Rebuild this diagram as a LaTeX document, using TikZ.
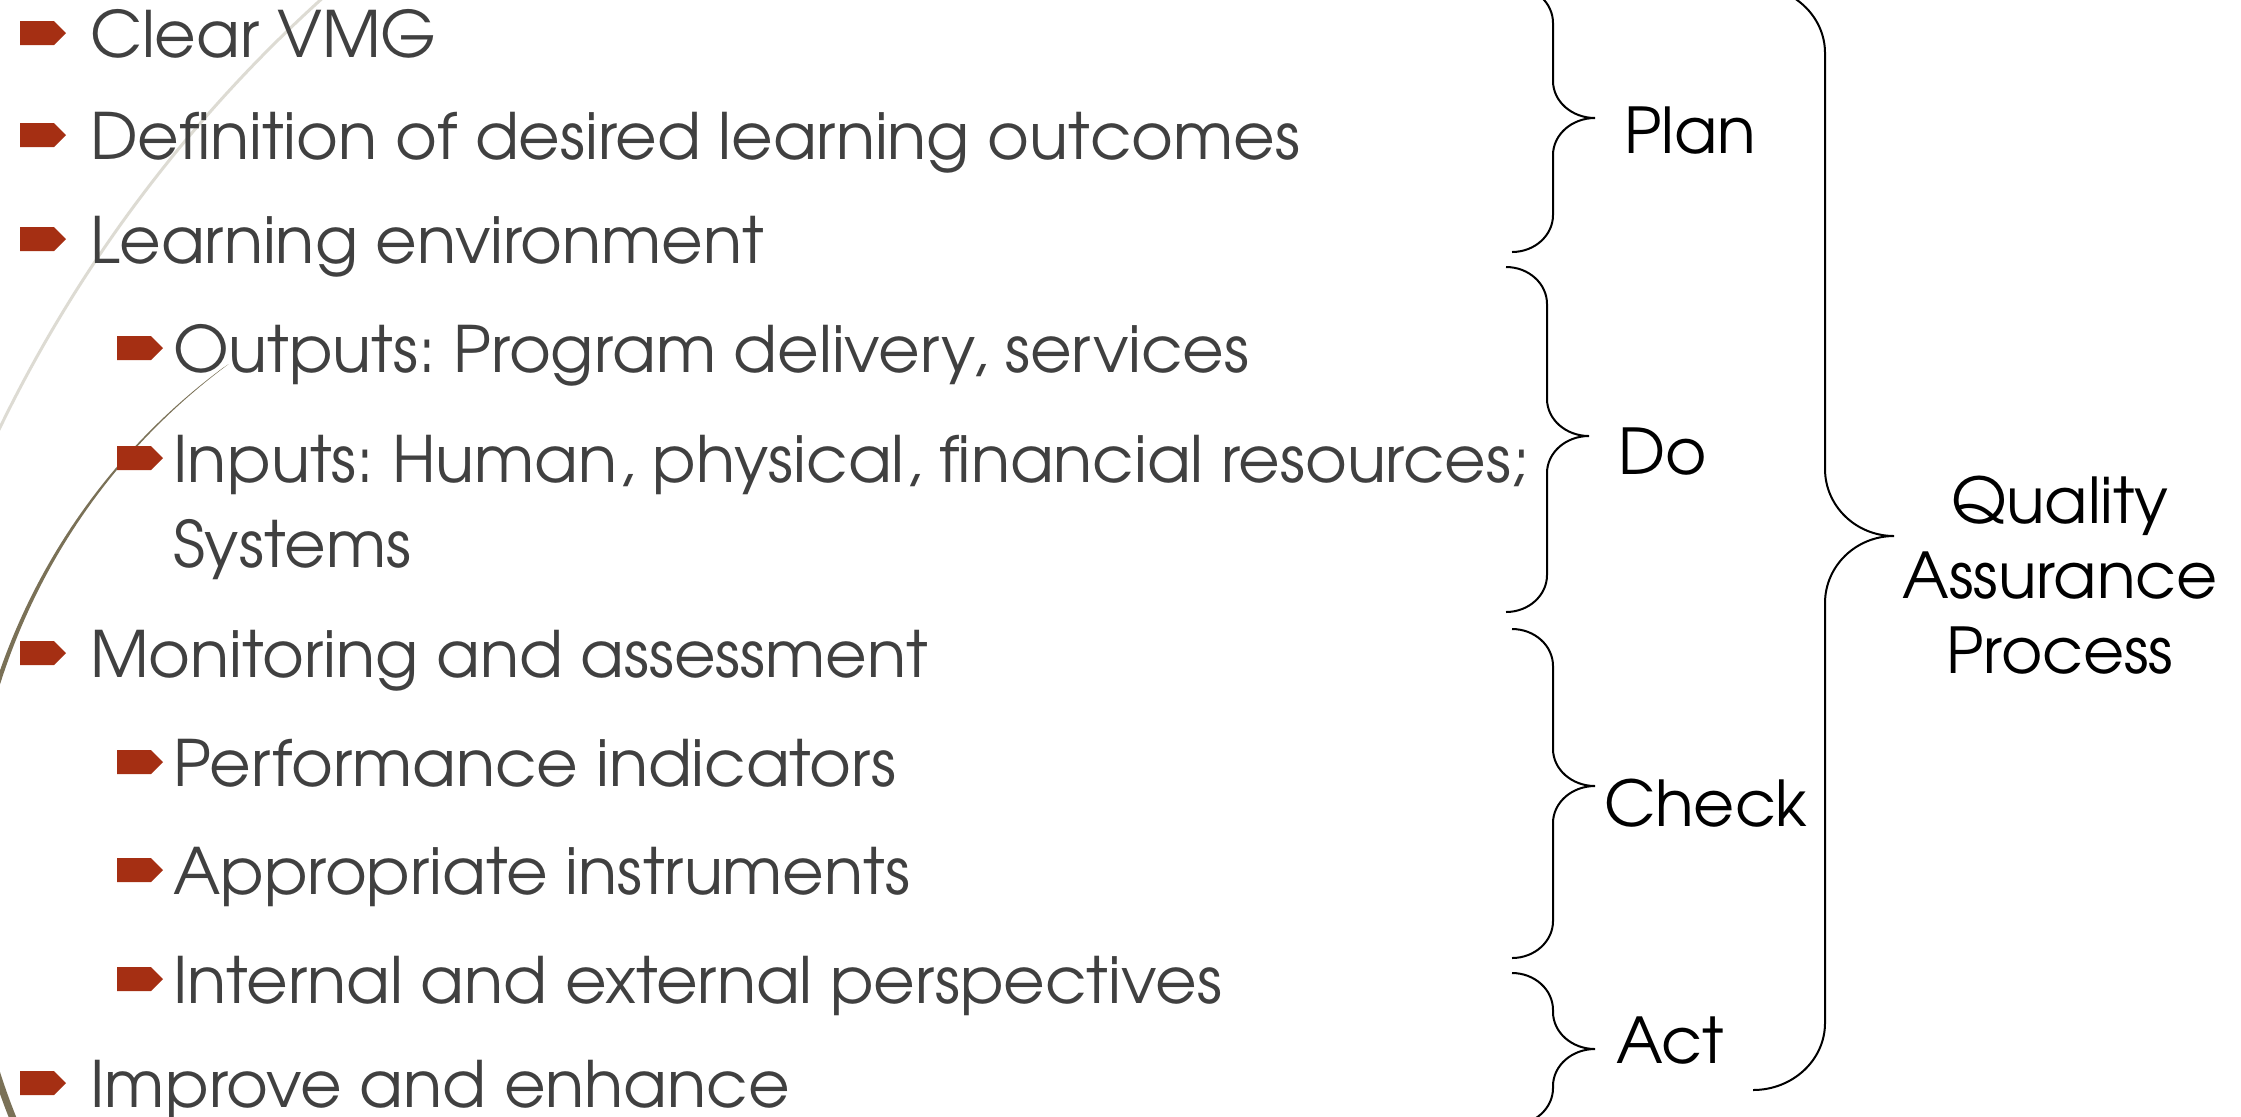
\documentclass[tikz,border=0pt]{standalone}
\usepackage{fontspec}
\setmainfont{TeX Gyre Adventor}
\frenchspacing
\definecolor{txtc}{HTML}{404040}
\definecolor{bulc}{HTML}{A52F13}
\definecolor{arcl}{HTML}{DDDBD3}
\definecolor{arcd}{HTML}{7A7157}
% #1 xend, #2 xv, #3 xtip, #4 ytop, #5 ytip, #6 ybot, #7 curl height
\newcommand\curlybr[7]{%
  \draw[brc] (#1,#4) .. controls ({#1+0.552*(#2-#1)},#4) and (#2,{#4+0.448*#7}) .. (#2,{#4+#7})
    -- (#2,{#5-#7}) .. controls (#2,{#5-0.448*#7}) and ({#3-0.552*(#3-#2)},#5) .. (#3,#5)
    .. controls ({#3-0.552*(#3-#2)},#5) and (#2,{#5+0.448*#7}) .. (#2,{#5+#7})
    -- (#2,{#6-#7}) .. controls (#2,{#6-0.448*#7}) and ({#1+0.552*(#2-#1)},#6) .. (#1,#6);}
\begin{document}
\begin{tikzpicture}[x=0.5pt,y=-0.5pt,
  item/.style={anchor=base west, inner sep=0pt, outer sep=0pt, text=txtc, font=\fontsize{32}{38}\selectfont},
  lab/.style={anchor=base west, inner sep=0pt, outer sep=0pt, text=black, font=\fontsize{31.6}{38}\selectfont},
  brc/.style={draw=black, line width=1pt},
  bulletmark/.pic={\fill[bulc] (0,-12) -- (34,-12) -- (46,0) -- (34,12) -- (0,12) -- cycle;}]
\useasboundingbox (0,0) rectangle (2241,1116);
\begin{scope}
\clip (0,0) rectangle (2241,1116);
% decorative arcs
\draw[arcl, line width=1.5pt] (1264,1041) ++(236:1405) arc[start angle=236, end angle=200, radius=1405];
\fill[arcd] (604,882) ++(233.4:640) arc[start angle=233.4, end angle=150, radius=640]
  -- ++(6,-4) arc[start angle=150, end angle=233.4, radius=640] -- cycle;
% bullets
\foreach \yy in {57,159,263,677,1107} \pic at (20,\yy-24) {bulletmark};
\foreach \yy in {372,482,786,894,1003} \pic at (117,\yy-24) {bulletmark};
% items
\node[item] (t1) at (90,57) {Clear VMG};
\node[item] (t2) at (90,159) {Definition of desired learning outcomes};
\node[item] (t3) at (90,263) {Learning environment};
\node[item] (t31) at (173,372) {Outputs: Program delivery, services};
\node[item] (t32) at (173,482) {Inputs: Human, physical, financial resources;};
\node[item] (t32b) at (173,567) {Systems};
\node[item] (t4) at (90,677) {Monitoring and assessment};
\node[item] (t41) at (173,786) {Performance indicators};
\node[item] (t42) at (173,894) {Appropriate instruments};
\node[item] (t43) at (173,1003) {Internal and external perspectives};
\node[item] (t5) at (90,1107) {Improve and enhance};
% braces
\curlybr{1512}{1553}{1595}{-14}{118}{252}{37}
\curlybr{1506}{1547}{1589}{267}{436}{612}{37}
\curlybr{1512}{1553}{1595}{629}{786}{958}{37}
\curlybr{1512}{1553}{1595}{973}{1049}{1125}{37}
\curlybr{1753}{1825}{1894}{-14}{536}{1090}{67}
% labels
\node[lab] (plan) at (1624,153) {Plan};
\node[lab] (do) at (1618,474) {Do};
\node[lab] (check) at (1604,826) {Check};
\node[lab] (act) at (1616,1063) {Act};
\node[inner sep=0pt, text=black, align=center, font=\fontsize{31.6}{37.5}\selectfont] (qap) at (2060,575) {Quality\\Assurance\\Process};
\end{scope}
\end{tikzpicture}
\end{document}
